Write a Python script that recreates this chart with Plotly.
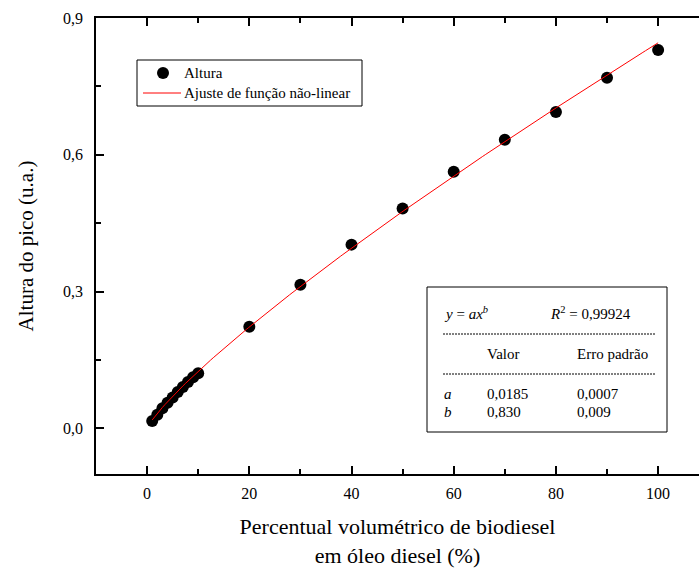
import numpy as np
import plotly.graph_objects as go

# Data
concentracao = [1, 2, 3, 4, 5, 6, 7, 8, 9, 10, 20, 30, 40, 50, 60, 70, 80, 90, 100]
altura = [0.016, 0.030, 0.044, 0.056, 0.068, 0.080, 0.091, 0.102, 0.112, 0.121,
          0.223, 0.315, 0.403, 0.482, 0.563, 0.633, 0.694, 0.769, 0.830]
param_a = 0.0185
param_b = 0.830
x_ticks = [0, 20, 40, 60, 80, 100]
y_ticks = [0.0, 0.3, 0.6, 0.9]
y_tick_labels = ["0,0", "0,3", "0,6", "0,9"]

x_fit = np.linspace(1, 100, 200)
y_fit = param_a * x_fit ** param_b

FONT = "Liberation Serif"

fig = go.Figure()
fig.add_trace(go.Scatter(x=concentracao, y=altura, mode="markers", name="Altura",
                         marker=dict(color="black", size=12, line=dict(width=0)), showlegend=False))
fig.add_trace(go.Scatter(x=x_fit, y=y_fit, mode="lines", name="Ajuste de função não-linear",
                         line=dict(color="red", width=1), showlegend=False))

axis_common = dict(showgrid=False, zeroline=False, showline=True, linecolor="black", linewidth=1.5,
                   ticks="inside", ticklen=8, tickwidth=1.5, tickcolor="black",
                   tickfont=dict(family=FONT, size=16, color="black"))

fig.update_xaxes(range=[-10, 108], tickvals=x_ticks, mirror="ticks", ticklabelstandoff=4,
                 minor=dict(ticks="inside", ticklen=5, tickwidth=1.5, tickcolor="black",
                            tickvals=[10, 30, 50, 70, 90]),
                 title=dict(text="Percentual volumétrico de biodiesel<br>em óleo diesel (%)",
                            font=dict(family=FONT, size=22, color="black"), standoff=18),
                 **axis_common)
fig.update_yaxes(range=[-0.1, 0.9], tickvals=y_ticks, ticktext=y_tick_labels, ticklabelstandoff=8,
                 minor=dict(ticks="inside", ticklen=5, tickwidth=1.5, tickcolor="black",
                            tickvals=[0.15, 0.45, 0.75]),
                 title=dict(text="Altura do pico (u.a.)",
                            font=dict(family=FONT, size=21, color="black"), standoff=24),
                 **axis_common)

def px_x(p):
    return (p - 96) / 603

def px_y(p):
    return (474 - p) / 456

shapes = [
    # inset box
    dict(type="rect", xref="paper", yref="paper", x0=px_x(427), x1=px_x(667),
         y0=px_y(432), y1=px_y(287), line=dict(color="black", width=1), fillcolor="white", layer="below"),
    dict(type="line", xref="paper", yref="paper", x0=px_x(443), x1=px_x(655),
         y0=px_y(334), y1=px_y(334), line=dict(color="black", width=1, dash="2px,1px")),
    dict(type="line", xref="paper", yref="paper", x0=px_x(443), x1=px_x(655),
         y0=px_y(374), y1=px_y(374), line=dict(color="black", width=1, dash="2px,1px")),
    # legend box
    dict(type="rect", xref="paper", yref="paper", x0=px_x(137), x1=px_x(362),
         y0=px_y(106), y1=px_y(60), line=dict(color="black", width=1), fillcolor="white", layer="below"),
    dict(type="circle", xref="paper", yref="paper", x0=px_x(157), x1=px_x(169),
         y0=px_y(79), y1=px_y(67), line=dict(color="black", width=0), fillcolor="black"),
    dict(type="line", xref="paper", yref="paper", x0=px_x(143), x1=px_x(181),
         y0=px_y(93), y1=px_y(93), line=dict(color="red", width=1)),
]
fig.update_layout(shapes=shapes)

tf = dict(family=FONT, size=15, color="black")
texts = [
    (444, 313, "<i>y</i> = <i>ax<sup>b</sup></i>"),
    (550, 313, "<i>R</i><sup>2</sup> = 0,99924"),
    (487, 354, "Valor"),
    (577, 354, "Erro padrão"),
    (444, 394, "<i>a</i>"),
    (487, 394, "0,0185"),
    (577, 394, "0,0007"),
    (444, 412, "<i>b</i>"),
    (487, 412, "0,830"),
    (577, 412, "0,009"),
    (184, 73, "Altura"),
    (184, 93, "Ajuste de função não-linear"),
]
for xp, yp, t in texts:
    fig.add_annotation(x=px_x(xp), y=px_y(yp), xref="paper", yref="paper", text=t,
                       showarrow=False, xanchor="left", yanchor="middle", font=tf,
                       xshift=-2)

fig.update_layout(
    width=699, height=572,
    margin=dict(l=96, r=0, t=18, b=98),
    paper_bgcolor="white", plot_bgcolor="white",
    showlegend=False,
)

fig.write_html("out.html")
